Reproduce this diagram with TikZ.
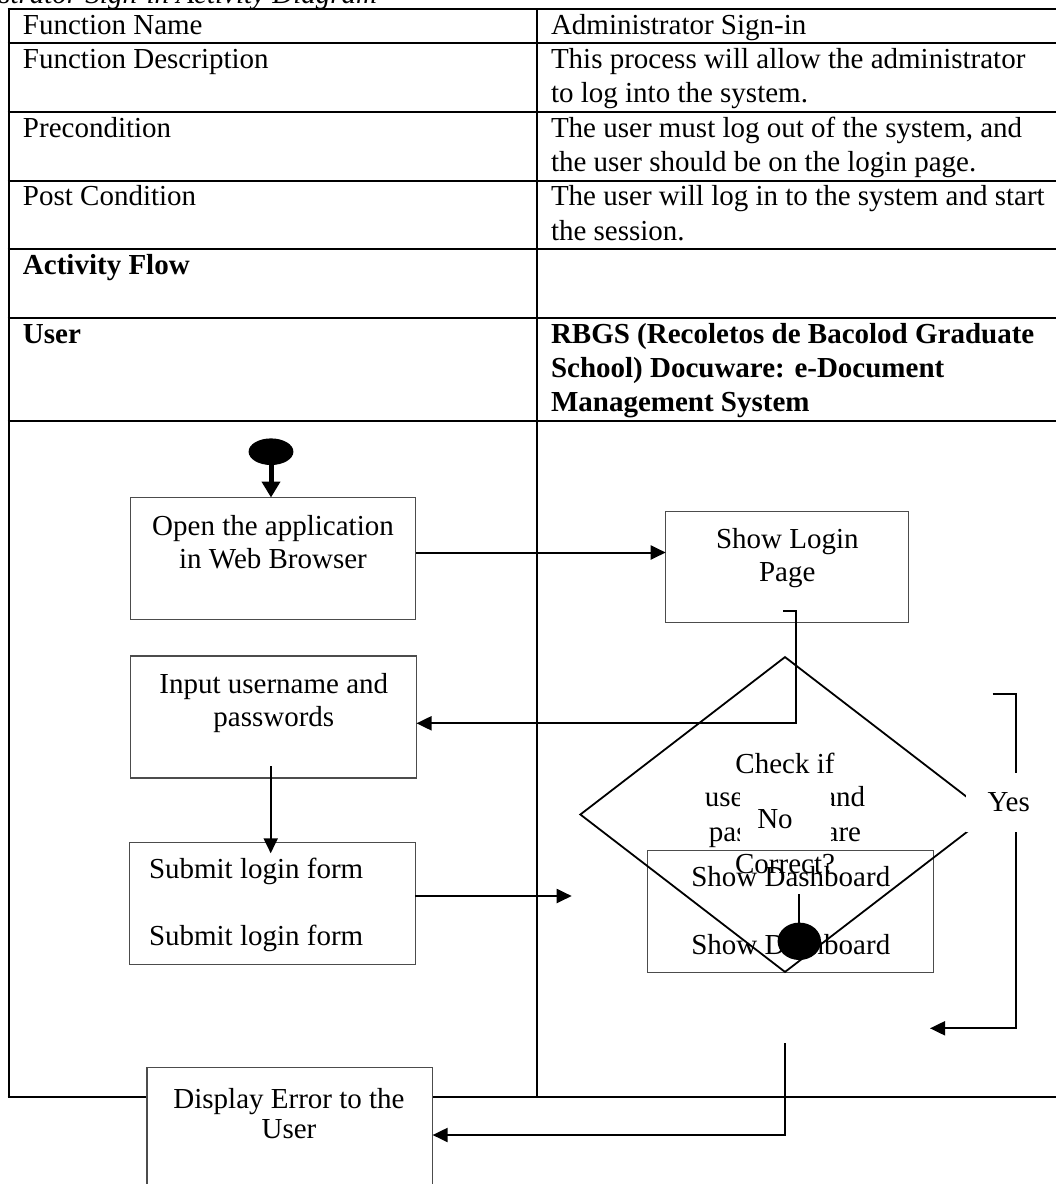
\documentclass[tikz,border=0pt]{standalone}
\usepackage{fontspec}
\setmainfont{Liberation Serif}
\usetikzlibrary{arrows.meta,shapes.geometric,calc}
\begin{document}
\begin{tikzpicture}[x=1pt,y=-1pt,
  tline/.style={line width=2.2pt,black},
  box/.style={draw=black!70,line width=1.1pt,fill=white,inner sep=0pt,outer sep=0pt,minimum width=285.6pt,minimum height=122pt},
  conn/.style={line width=2pt,black},
  arr/.style={conn,-{Triangle[width=14pt,length=15pt]}},
  txt/.style={inner sep=0pt,outer sep=0pt,font=\fontsize{29}{34}\selectfont,anchor=base},
  ltxt/.style={txt,anchor=base west},
  btxt/.style={ltxt,font=\fontsize{29}{34}\selectfont\bfseries},
  blob/.style={ellipse,fill=black,inner sep=0pt,outer sep=0pt},
  mask/.style={fill=white,inner sep=0pt,outer sep=0pt}
]
\useasboundingbox (0,0) rectangle (1056,1184);
\clip (0,0) rectangle (1056,1184);

% caption (cut at the top of the page)
\node[txt,anchor=base east,font=\fontsize{29}{34}\selectfont\itshape] (cap) at (377,3) {Administrator Sign-in Activity Diagram};

% table
\draw[tline] (8.6,9) -- (8.6,1096.7);
\draw[tline] (537,9) -- (537,1096.7);
\foreach \yy in {9,43.3,112,180.7,249.3,318,421,1096.7}
  \draw[tline] (7.5,\yy) -- (1060,\yy);

\node[ltxt] (l1) at (23,34) {Function Name};
\node[ltxt] (l2) at (23,68.3) {Function Description};
\node[ltxt] (l3) at (23,137) {Precondition};
\node[ltxt] (l4) at (23,205.7) {Post Condition};
\node[btxt] (l5) at (23,274.3) {Activity Flow};
\node[btxt] (l6) at (23,343) {User};

\node[ltxt] (r1) at (551,34) {Administrator Sign-in};
\node[ltxt] (r2a) at (551,68.3) {This process will allow the administrator};
\node[ltxt] (r2b) at (551,102.7) {to log into the system.};
\node[ltxt] (r3a) at (551,137) {The user must log out of the system, and};
\node[ltxt] (r3b) at (551,171.3) {the user should be on the login page.};
\node[ltxt] (r4a) at (551,205.7) {The user will log in to the system and start};
\node[ltxt] (r4b) at (551,240) {the session.};
\node[btxt] (r6a) at (551,343) {RBGS (Recoletos de Bacolod Graduate};
\node[btxt] (r6b) at (551,377.3) {School) Docuware: e-Document};
\node[btxt] (r6c) at (551,411.7) {Management System};

% boxes
\node[box] (open) at (273.1,558.5) {};
\node[box] (input) at (273.7,717) {};
\node[box] (submit) at (272.4,903.2) {};
\node[box,minimum width=243pt,minimum height=111.3pt] (login) at (787.2,566.7) {};
\node[box] (dash) at (790.5,911.7) {};
\node[box] (err) at (289.8,1128.7) {};

\node[txt] (topen1) at (273,535) {Open the application};
\node[txt] (topen2) at (273,568.3) {in Web Browser};
\node[txt] (tin1) at (273.8,693) {Input username and};
\node[txt] (tin2) at (273.8,726) {passwords};
\node[ltxt] (tsub1) at (149,878.3) {Submit login form};
\node[ltxt] (tsub2) at (149,945) {Submit login form};
\node[txt] (tlog1) at (787.3,548.3) {Show Login};
\node[txt] (tlog2) at (787.3,581.7) {Page};
\node[txt] (tdash1) at (790.8,886.7) {Show Dashboard};
\node[txt] (tdash2) at (790.8,954.3) {Show Dashboard};
\node[txt] (terr1) at (289,1108) {Display Error to the};
\node[txt] (terr2) at (289,1138) {User};

% decision
\node[draw,line width=1.8pt,shape=diamond,minimum width=410pt,minimum height=315.6pt,inner sep=0pt] (chk) at (785,814.5) {};
\node[txt] (q1) at (785,773.3) {Check if};
\node[txt] (q2) at (785,806.7) {username and};
\node[txt] (q3) at (785,841) {password are};
\node[txt] (q4) at (785,873.3) {Correct?};

% start and end
\node[blob,minimum width=44.8pt,minimum height=26.6pt] (start) at (271,451.7) {};
\node[blob,minimum width=43.4pt,minimum height=37.4pt] (fin) at (799.3,941.3) {};

% connectors
\draw[line width=5pt,-{Triangle[width=18pt,length=16pt]}] (start.south) -- (start.south |- open.north);

\coordinate (a1) at (0,552.5);
\draw[arr] (open.east |- a1) -- (login.west |- a1);

\coordinate (b1) at (783.3,610.7);
\coordinate (b2) at (796,723.3);
\draw[arr] (b1) -| (b2) -- (input.east |- b2);

\coordinate (c1) at (270.7,766);
\coordinate (c2) at (270.7,853.3);
\draw[arr] (c1) -- (c2);

\coordinate (d1) at (571.7,896);
\draw[arr] (submit.east |- d1) -- (d1);

\coordinate (y1) at (992.7,693.7);
\coordinate (y2) at (1015.7,1028.3);
\coordinate (y3) at (930,1028.3);
\draw[arr] (y1) -| (y2) -- (y3);

\coordinate (n1) at (785,1043.3);
\coordinate (n2) at (785,1135);
\draw[arr] (n1) -- (n2) -- (err.east |- n2);

\coordinate (e1) at (799.3,894.3);
\draw[conn] (e1) -- (fin.north);

% labels
\node[mask,minimum width=86pt,minimum height=59pt] (yesbg) at (1009,802.5) {};
\node[txt] (yes) at (1008.7,811.7) {Yes};
\node[mask,minimum width=91pt,minimum height=64pt] (nobg) at (785.5,816) {};
\node[txt] (no) at (775,828.3) {No};
\end{tikzpicture}
\end{document}
